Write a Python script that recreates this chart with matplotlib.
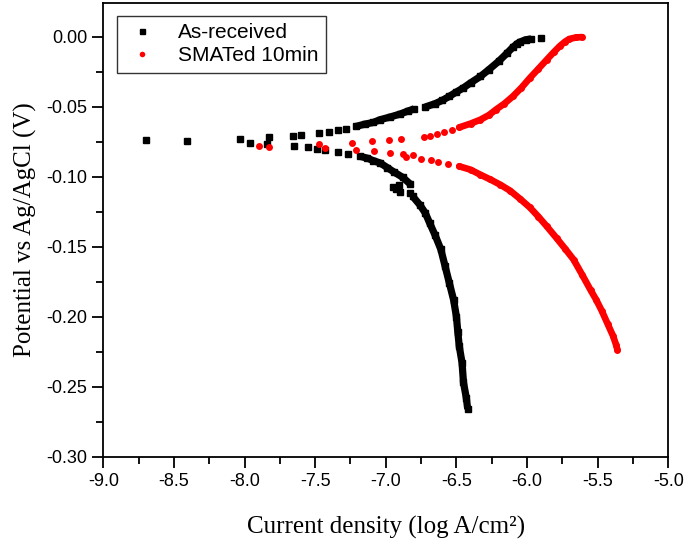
import matplotlib.pyplot as plt
from matplotlib.ticker import MultipleLocator

# As-received: scattered points near Ecorr, then dense anodic / cathodic branches
ar_sparse_x = [-8.70, -8.41, -8.03, -7.96, -7.83, -7.84, -7.66, -7.65, -7.60, -7.55,
               -7.49, -7.47, -7.43, -7.40, -7.34, -7.34, -7.28, -7.27,
               -6.95, -6.93, -6.91, -6.90, -6.83, -5.90]
ar_sparse_y = [-0.0741, -0.0748, -0.0729, -0.0759, -0.0716, -0.0766, -0.0712, -0.0779, -0.0700, -0.0788,
               -0.0800, -0.0688, -0.0807, -0.0681, -0.0669, -0.0824, -0.0657, -0.0838,
               -0.1075, -0.1090, -0.1060, -0.1110, -0.1115, -0.0009]
ar_anodic1_x = [-7.21, -7.15, -7.09, -7.04, -6.97, -6.90, -6.84, -6.80]
ar_anodic1_y = [-0.0641, -0.0625, -0.0613, -0.0593, -0.0574, -0.0553, -0.0530, -0.0516]
ar_anodic2_x = [-6.72, -6.65, -6.60, -6.55, -6.50, -6.45, -6.40, -6.33, -6.27, -6.20,
                -6.14, -6.10, -6.07, -6.05, -6.01, -5.97]
ar_anodic2_y = [-0.0502, -0.0478, -0.0455, -0.0426, -0.0395, -0.0365, -0.0330, -0.0284, -0.0235, -0.0175,
                -0.0116, -0.0075, -0.0050, -0.0038, -0.0022, -0.0016]
ar_cath1_x = [-7.18, -7.13, -7.09, -7.04, -6.99, -6.94, -6.88, -6.83]
ar_cath1_y = [-0.0855, -0.0868, -0.0885, -0.0902, -0.0935, -0.0968, -0.1005, -0.1050]
ar_cath2_x = [-6.81, -6.76, -6.72, -6.69, -6.65, -6.61, -6.58, -6.55, -6.52, -6.50,
              -6.49, -6.48, -6.46, -6.45, -6.43, -6.42]
ar_cath2_y = [-0.1140, -0.1200, -0.1260, -0.1330, -0.1420, -0.1520, -0.1640, -0.1760, -0.1880, -0.2000,
              -0.2110, -0.2210, -0.2330, -0.2470, -0.2580, -0.2660]

# SMATed 10min
sm_sparse_x = [-7.90, -7.83, -7.47, -7.43, -7.24, -7.21, -7.10, -7.08, -6.98, -6.97,
               -6.89, -6.88, -6.86, -6.81, -6.75, -6.73, -6.69, -6.64, -6.59, -6.53,
               -6.68, -6.63, -6.56]
sm_sparse_y = [-0.0779, -0.0790, -0.0766, -0.0798, -0.0759, -0.0807, -0.0748, -0.0819, -0.0738, -0.0831,
               -0.0729, -0.0838, -0.0859, -0.0848, -0.0871, -0.0716, -0.0707, -0.0698, -0.0684, -0.0664,
               -0.0884, -0.0895, -0.0907]
sm_anodic_x = [-6.48, -6.40, -6.33, -6.27, -6.22, -6.16, -6.10, -6.04, -5.98, -5.92,
               -5.86, -5.81, -5.77, -5.73, -5.70, -5.65, -5.61]
sm_anodic_y = [-0.0648, -0.0621, -0.0593, -0.0560, -0.0521, -0.0478, -0.0426, -0.0365, -0.0295, -0.0230,
               -0.0164, -0.0110, -0.0069, -0.0035, -0.0016, -0.0005, -0.0003]
sm_cath_x = [-6.48, -6.40, -6.33, -6.26, -6.19, -6.12, -6.05, -5.98, -5.92, -5.86,
             -5.79, -5.73, -5.67, -5.61, -5.55, -5.51, -5.47, -5.43, -5.39, -5.37, -5.36]
sm_cath_y = [-0.0926, -0.0950, -0.0986, -0.1020, -0.1057, -0.1100, -0.1158, -0.1220, -0.1285, -0.1355,
             -0.1440, -0.1515, -0.1593, -0.1700, -0.1810, -0.1880, -0.1960, -0.2050, -0.2140, -0.2200, -0.2236]

fig = plt.figure(figsize=(6.85, 5.4), dpi=100)
ax = fig.add_axes([0.1508, 0.1543, 0.8248, 0.840])

blk = dict(color='black', marker='s', markersize=4.5, linewidth=5.2, solid_capstyle='butt')
red = dict(color='red', marker='o', markersize=5.0, linewidth=4.8, solid_capstyle='round')

ax.plot(ar_sparse_x, ar_sparse_y, 's', color='black', markersize=4.5, label='As-received')
for xs, ys in [(ar_anodic1_x, ar_anodic1_y), (ar_anodic2_x, ar_anodic2_y),
               (ar_cath1_x, ar_cath1_y), (ar_cath2_x, ar_cath2_y)]:
    ax.plot(xs, ys, **blk)

ax.plot(sm_sparse_x, sm_sparse_y, 'o', color='red', markersize=5.0, markeredgewidth=0, label='SMATed 10min')
for xs, ys in [(sm_anodic_x, sm_anodic_y), (sm_cath_x, sm_cath_y)]:
    ax.plot(xs, ys, markeredgewidth=0, **red)

ax.set_xlim(-9.0, -5.0)
ax.set_ylim(-0.30, 0.024)
ax.xaxis.set_major_locator(MultipleLocator(0.5))
ax.xaxis.set_minor_locator(MultipleLocator(0.25))
ax.yaxis.set_major_locator(MultipleLocator(0.05))
ax.yaxis.set_minor_locator(MultipleLocator(0.025))
ax.xaxis.set_major_formatter(plt.FormatStrFormatter('%.1f'))
ax.yaxis.set_major_formatter(plt.FormatStrFormatter('%.2f'))
ax.tick_params(which='both', direction='out', width=1.3, top=False, right=False,
               labelsize=13)
ax.tick_params(which='major', length=8)
ax.tick_params(which='minor', length=5)
for lab in ax.get_xticklabels() + ax.get_yticklabels():
    lab.set_family('Liberation Sans')
for s in ax.spines.values():
    s.set_linewidth(1.3)

ax.set_xlabel('Current density (log A/cm²)', family='Liberation Serif', fontsize=18, labelpad=19)
ax.set_ylabel('Potential vs Ag/AgCl (V)', family='Liberation Serif', fontsize=18, labelpad=7)

leg = ax.legend(loc='upper left', bbox_to_anchor=(0.024, 0.972), frameon=True, fancybox=False,
                edgecolor='black', prop={'family': 'Liberation Sans', 'size': 15},
                handletextpad=0.9, borderpad=0.35, labelspacing=0.2, handlelength=1.7,
                markerscale=0.8, borderaxespad=0)
leg.get_frame().set_linewidth(1.0)

fig.savefig('out.png', dpi=100)
